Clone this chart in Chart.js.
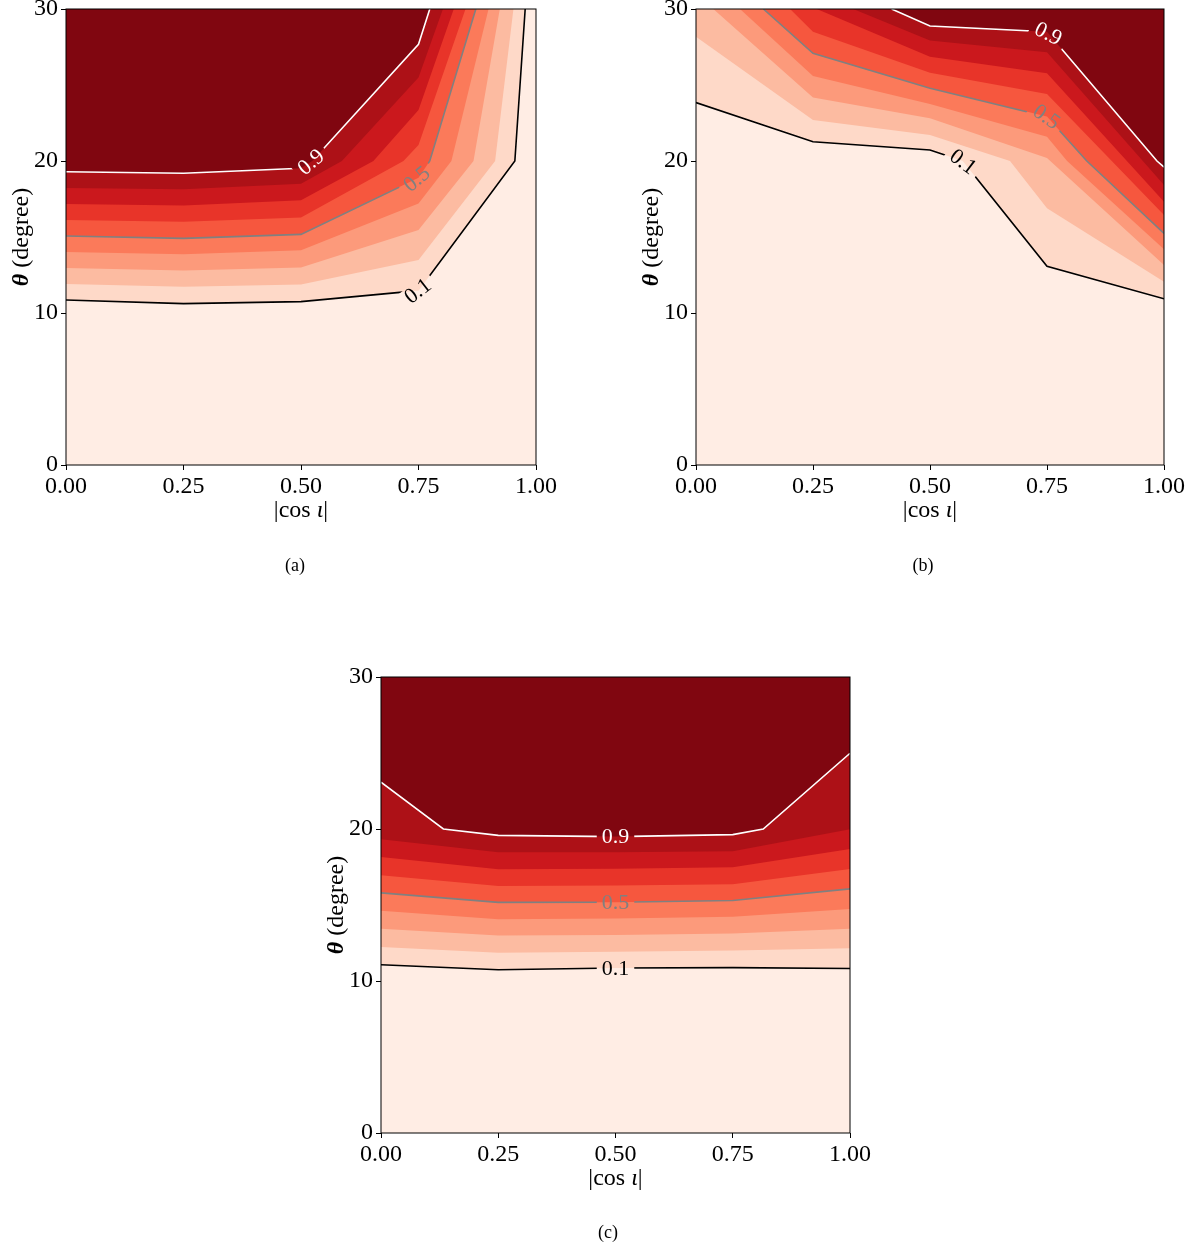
<!DOCTYPE html>
<html>
<head>
<meta charset="utf-8">
<script src="https://cdn.jsdelivr.net/npm/chart.js@4.4.0/dist/chart.umd.min.js"></script>
<style>
body { margin: 0; background: #fff; width: 1198px; height: 1245px; position: relative; overflow: hidden; font-family: 'Liberation Serif', serif; }
canvas { position: absolute; }
.cap { position: absolute; font-size: 18px; transform: translate(-50%, -50%); color: #000; }
</style>
</head>
<body>
<canvas id="pa"></canvas>
<canvas id="pb"></canvas>
<canvas id="pc"></canvas>
<div class="cap" style="left:295px;top:565px">(a)</div>
<div class="cap" style="left:923px;top:565px">(b)</div>
<div class="cap" style="left:608px;top:1232px">(c)</div>
<script>
const levels = [0.1, 0.2, 0.3, 0.4, 0.5, 0.6, 0.7, 0.8, 0.9];
// Reds colour of each band: below 0.1, 0.1-0.2, ..., above 0.9
const bandColors = ['#ffede4', '#fed9c8', '#fcbba1', '#fc9a7b', '#fb7a5a', '#f6573e', '#e83429', '#cb181d', '#ad1117', '#800610'];
const xTicks = [0, 0.25, 0.5, 0.75, 1];
const yTicks = [0, 10, 20, 30];
const drawnLevels = [0.1, 0.5, 0.9];
const drawnColors = ['#000000', '#808080', '#ffffff'];

// contour vertices [|cos i|, theta], one list per level 0.1 ... 0.9
const contoursA = [
  [[0, 10.86], [0.25, 10.62], [0.5, 10.75], [0.75, 11.47], [0.955, 20], [0.977, 30]],
  [[0, 11.91], [0.25, 11.73], [0.5, 11.88], [0.75, 13.49], [0.913, 20], [0.952, 30]],
  [[0, 12.96], [0.25, 12.79], [0.5, 13.0], [0.75, 15.46], [0.867, 20], [0.923, 30]],
  [[0, 14.02], [0.25, 13.87], [0.5, 14.13], [0.75, 17.2], [0.82, 20], [0.899, 30]],
  [[0, 15.07], [0.25, 14.91], [0.5, 15.17], [0.75, 18.89], [0.774, 20], [0.872, 30]],
  [[0, 16.12], [0.25, 16.01], [0.5, 16.28], [0.718, 20], [0.75, 21.05], [0.85, 30]],
  [[0, 17.17], [0.25, 17.08], [0.5, 17.41], [0.654, 20], [0.75, 23.36], [0.825, 30]],
  [[0, 18.22], [0.25, 18.14], [0.5, 18.5], [0.587, 20], [0.75, 25.5], [0.802, 30]],
  [[0, 19.29], [0.25, 19.19], [0.5, 19.52], [0.524, 20], [0.75, 27.68], [0.774, 30]]
];
const contoursB = [
  [[0, 23.84], [0.25, 21.27], [0.5, 20.72], [0.57, 20], [0.75, 13.07], [1, 10.94]],
  [[0, 28.18], [0.25, 22.7], [0.5, 21.71], [0.671, 20], [0.75, 16.89], [1, 12.06]],
  [[0.037, 30], [0.25, 24.17], [0.5, 22.81], [0.75, 20.2], [1, 13.16]],
  [[0.094, 30], [0.25, 25.59], [0.5, 23.75], [0.75, 21.6], [0.793, 20], [1, 14.2]],
  [[0.144, 30], [0.25, 27.08], [0.5, 24.78], [0.75, 22.92], [0.835, 20], [1, 15.24]],
  [[0.201, 30], [0.25, 28.51], [0.5, 25.81], [0.75, 24.41], [1, 16.45]],
  [[0.258, 30], [0.5, 26.86], [0.75, 25.77], [1, 17.32]],
  [[0.336, 30], [0.5, 27.92], [0.75, 27.15], [1, 18.42]],
  [[0.418, 30], [0.5, 28.88], [0.75, 28.5], [0.985, 20], [1, 19.6]]
];
const contoursC = [
  [[0, 11.07], [0.25, 10.74], [0.5, 10.86], [0.75, 10.88], [1, 10.82]],
  [[0, 12.23], [0.25, 11.86], [0.5, 11.93], [0.75, 12.0], [1, 12.15]],
  [[0, 13.43], [0.25, 12.99], [0.5, 13.03], [0.75, 13.12], [1, 13.43]],
  [[0, 14.62], [0.25, 14.07], [0.5, 14.12], [0.75, 14.22], [1, 14.74]],
  [[0, 15.8], [0.25, 15.17], [0.5, 15.18], [0.75, 15.3], [1, 16.06]],
  [[0, 16.95], [0.25, 16.25], [0.5, 16.28], [0.75, 16.37], [1, 17.37]],
  [[0, 18.15], [0.25, 17.36], [0.5, 17.39], [0.75, 17.48], [1, 18.68]],
  [[0, 19.32], [0.25, 18.47], [0.5, 18.47], [0.75, 18.53], [1, 19.98]],
  [[0, 23.08], [0.133, 20], [0.25, 19.58], [0.5, 19.5], [0.75, 19.63], [0.815, 20], [1, 24.98]]
];

// inline contour labels: level, where along |cos i|, text rotation
const labelsA = [{ level: 0.9, x: 0.521, rot: -40 }, { level: 0.5, x: 0.746, rot: -40 }, { level: 0.1, x: 0.748, rot: -38 }];
const labelsB = [{ level: 0.9, x: 0.753, rot: 27 }, { level: 0.5, x: 0.749, rot: 35 }, { level: 0.1, x: 0.571, rot: 37 }];
const labelsC = [{ level: 0.9, x: 0.5, rot: 0 }, { level: 0.5, x: 0.5, rot: 0 }, { level: 0.1, x: 0.5, rot: 0 }];

const FONT = "'Liberation Serif', 'Times New Roman', serif";
const TOP = 30, XMAX = 1;

const toPts = line => line.map(([x, y]) => ({ x, y }));

// close lines that run into the top edge along that edge, so the fill below them is right
const closeToTop = line => {
  const p = toPts(line);
  if (p[0].y >= TOP && p[0].x > 0) p.unshift({ x: 0, y: TOP });
  const last = p[p.length - 1];
  if (last.y >= TOP && last.x < XMAX) p.push({ x: XMAX, y: TOP });
  return p;
};

const thetaAt = (line, x) => {
  for (let i = 1; i < line.length; i++) {
    const [x0, y0] = line[i - 1], [x1, y1] = line[i];
    if (x >= x0 && x <= x1) return x1 === x0 ? y0 : y0 + (y1 - y0) * (x - x0) / (x1 - x0);
  }
  return line[line.length - 1][1];
};

const labelBoxes = (chart, ds) => {
  const xs = chart.scales.x, ys = chart.scales.y, ctx = chart.ctx;
  ctx.font = '22px ' + FONT;
  return ds.contourLabels.map(l => {
    const txt = l.level.toFixed(1);
    return {
      txt, rot: l.rot * Math.PI / 180,
      cx: xs.getPixelForValue(l.x), cy: ys.getPixelForValue(thetaAt(ds.raw, l.x)),
      w: ctx.measureText(txt).width + 10, h: 18
    };
  });
};

const contourPlugin = {
  id: 'contourPlot',
  beforeDatasetsDraw(chart) {
    const a = chart.chartArea, ctx = chart.ctx;
    ctx.save();
    ctx.fillStyle = bandColors[bandColors.length - 1];
    ctx.fillRect(a.left, a.top, a.right - a.left, a.bottom - a.top);
    ctx.restore();
  },
  beforeDatasetDraw(chart, args) {
    const ds = chart.data.datasets[args.index];
    if (!ds.contourLabels) return;
    const ctx = chart.ctx;
    ctx.save();
    ctx.beginPath();
    ctx.rect(0, 0, chart.width, chart.height);
    labelBoxes(chart, ds).forEach(b => {
      const c = Math.cos(b.rot), s = Math.sin(b.rot);
      [[-1, -1], [1, -1], [1, 1], [-1, 1]].forEach(([u, v], k) => {
        const px = b.cx + c * u * b.w / 2 - s * v * b.h / 2;
        const py = b.cy + s * u * b.w / 2 + c * v * b.h / 2;
        if (k === 0) ctx.moveTo(px, py); else ctx.lineTo(px, py);
      });
      ctx.closePath();
    });
    ctx.clip('evenodd');
  },
  afterDatasetDraw(chart, args) {
    if (chart.data.datasets[args.index].contourLabels) chart.ctx.restore();
  },
  afterDatasetsDraw(chart) {
    const ctx = chart.ctx;
    chart.data.datasets.forEach(ds => {
      if (!ds.contourLabels) return;
      labelBoxes(chart, ds).forEach(b => {
        ctx.save();
        ctx.translate(b.cx, b.cy);
        ctx.rotate(b.rot);
        ctx.font = '22px ' + FONT;
        ctx.fillStyle = ds.borderColor;
        ctx.textAlign = 'center';
        ctx.textBaseline = 'middle';
        ctx.fillText(b.txt, 0, 1);
        ctx.restore();
      });
    });
  },
  afterDraw(chart) {
    const a = chart.chartArea, ctx = chart.ctx;
    ctx.save();
    ctx.strokeStyle = '#000';
    ctx.lineWidth = 1;
    ctx.strokeRect(a.left, a.top, a.right - a.left, a.bottom - a.top);
    ctx.fillStyle = '#000';
    const runs = (list, cx, cy) => {
      let total = 0;
      list.forEach(r => { ctx.font = r.f; r.w = ctx.measureText(r.t).width; total += r.w; });
      let x = cx - total / 2;
      ctx.textAlign = 'left';
      ctx.textBaseline = 'middle';
      list.forEach(r => { ctx.font = r.f; ctx.fillText(r.t, x, cy); x += r.w; });
    };
    const n = '24px ' + FONT, it = 'italic 24px ' + FONT;
    runs([{ t: '|', f: n }, { t: 'cos ', f: n }, { t: 'ι', f: it }, { t: '|', f: n }], (a.left + a.right) / 2, a.bottom + 46);
    ctx.translate(a.left - 44, (a.top + a.bottom) / 2);
    ctx.rotate(-Math.PI / 2);
    runs([{ t: 'θ', f: 'italic bold 24px ' + FONT }, { t: ' (degree)', f: n }], 0, 0);
    ctx.restore();
  }
};

function makePanel(id, area, contours, labels) {
  const canvas = document.getElementById(id);
  canvas.width = area.right - area.left + 100;
  canvas.height = area.bottom - area.top + 120;
  canvas.style.left = (area.left - 70) + 'px';
  canvas.style.top = (area.top - 30) + 'px';

  const datasets = contours.map((line, i) => ({
    data: closeToTop(line),
    fill: 'start',
    backgroundColor: bandColors[i],
    borderWidth: 0,
    pointRadius: 0,
    tension: 0,
    order: 10 + i
  }));
  drawnLevels.forEach((lev, k) => {
    const i = levels.indexOf(lev);
    datasets.push({
      data: toPts(contours[i]),
      raw: contours[i],
      contourLabels: labels.filter(l => l.level === lev),
      fill: false,
      borderColor: drawnColors[k],
      borderWidth: 1.6,
      pointRadius: 0,
      tension: 0,
      order: k
    });
  });

  const tickFont = { family: FONT, size: 24 };
  new Chart(canvas, {
    type: 'line',
    data: { datasets },
    options: {
      responsive: false,
      animation: false,
      events: [],
      layout: { padding: { left: 20, top: 30, right: 30, bottom: 0 } },
      plugins: { legend: { display: false }, tooltip: { enabled: false } },
      scales: {
        x: {
          type: 'linear', min: 0, max: 1,
          afterBuildTicks: s => { s.ticks = xTicks.map(v => ({ value: v })); },
          afterFit: s => { s.height = 90; },
          ticks: { font: tickFont, color: '#000', padding: 2, maxRotation: 0, callback: v => v.toFixed(2) },
          grid: { drawOnChartArea: false, drawTicks: true, tickLength: 5, color: '#000', lineWidth: 1 },
          border: { display: false }
        },
        y: {
          type: 'linear', min: 0, max: 30,
          afterBuildTicks: s => { s.ticks = yTicks.map(v => ({ value: v })); },
          afterFit: s => { s.width = 50; },
          ticks: { font: tickFont, color: '#000', padding: 3, callback: v => String(v) },
          grid: { drawOnChartArea: false, drawTicks: true, tickLength: 5, color: '#000', lineWidth: 1 },
          border: { display: false }
        }
      }
    },
    plugins: [contourPlugin]
  });
}

makePanel('pa', { left: 66, top: 9, right: 536, bottom: 465 }, contoursA, labelsA);
makePanel('pb', { left: 696, top: 9, right: 1164, bottom: 465 }, contoursB, labelsB);
makePanel('pc', { left: 381, top: 677, right: 850, bottom: 1133 }, contoursC, labelsC);
</script>
</body>
</html>
